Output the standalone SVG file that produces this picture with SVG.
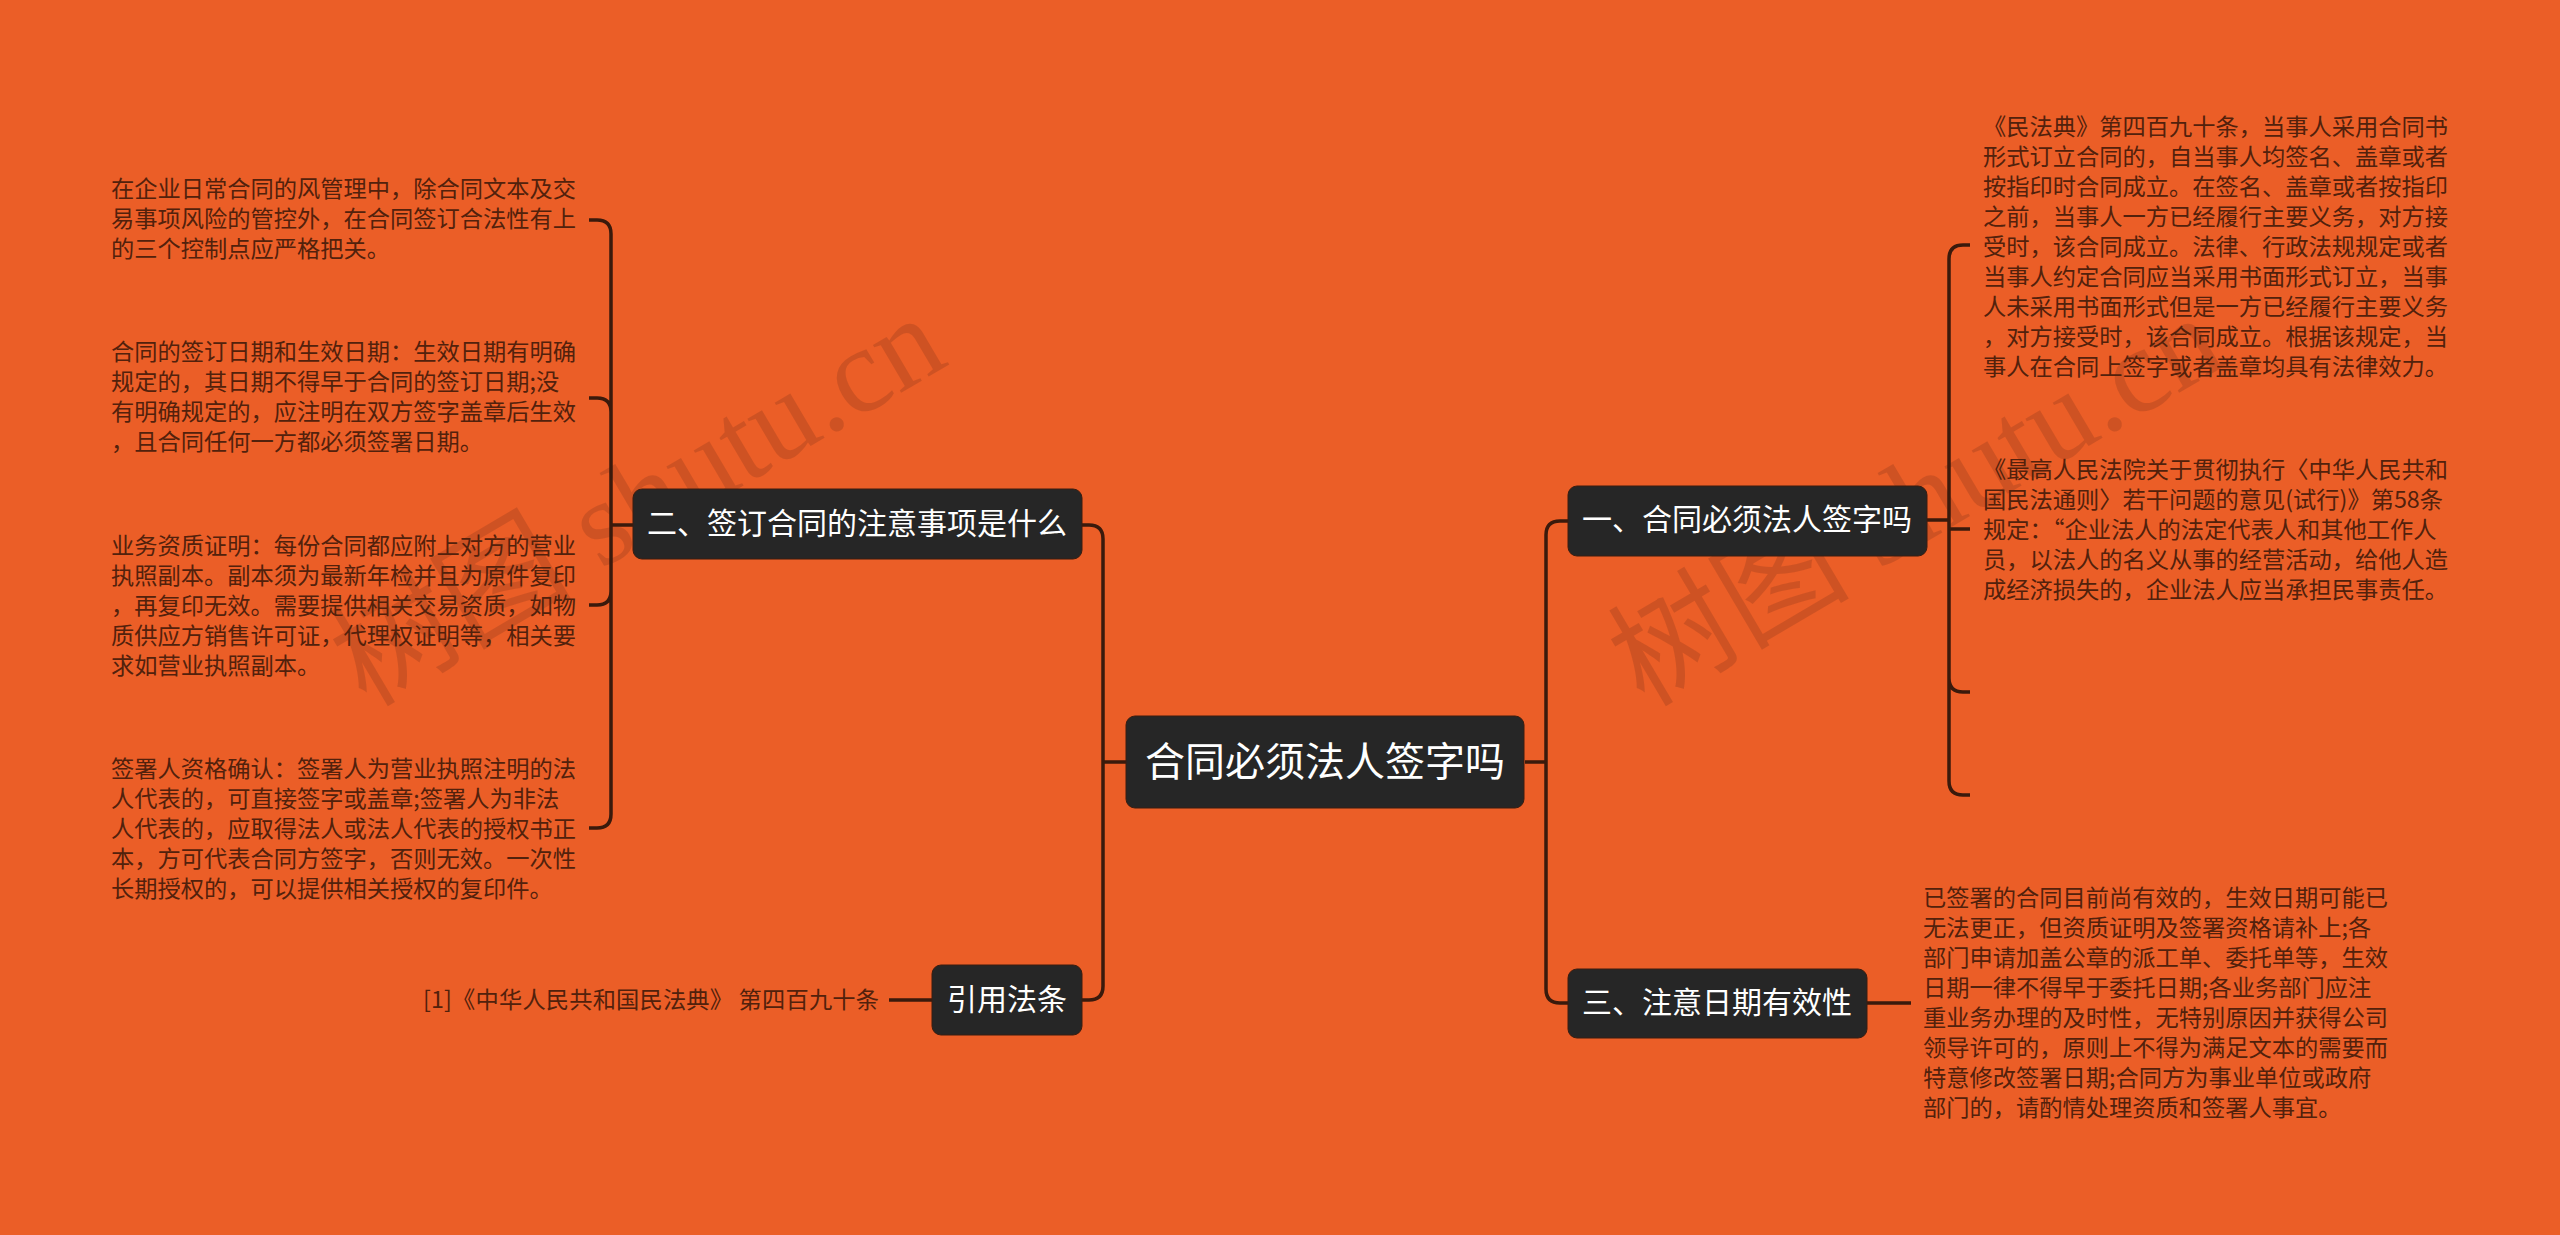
<svg xmlns="http://www.w3.org/2000/svg" width="2560" height="1235" viewBox="0 0 2560 1235">
<style>
text{font-family:"Noto Sans CJK SC","Liberation Sans",sans-serif}
.n{fill:#262626;stroke:#3a1d10;stroke-width:1}
.t0{fill:#fff;font-size:40px}
.t1{fill:#fff;font-size:30px}
.d{fill:#52210c;font-size:23.25px}
.c{fill:none;stroke:#3a1a0c;stroke-width:3.5}
.w{fill:#3a1a10;fill-opacity:.16;font-size:121px;font-family:"Liberation Serif","Noto Sans CJK SC",serif}
</style>
<rect width="2560" height="1235" fill="#eb5e27"/>
<g id="watermarks">
<text class="w" transform="translate(366 708) rotate(-30.5)">树图 shutu.cn</text>
<text class="w" transform="translate(1644 708) rotate(-30.5)">树图 shutu.cn</text>
</g>
<g id="connectors">
<path class="c" d="M1525 762H1546M1568 521H1560Q1546 521 1546 535V989Q1546 1003 1560 1003H1568"/>
<path class="c" d="M1126 762H1103M1082 525H1089Q1103 525 1103 539V986Q1103 1000 1089 1000H1082"/>
<path class="c" d="M1927 520H1949M1970 245H1963Q1949 245 1949 259V781Q1949 795 1963 795H1970M1949 529H1970M1949 678Q1949 692 1963 692H1970"/>
<path class="c" d="M633 525H611M589 220H597Q611 220 611 234V814Q611 828 597 828H589M589 398H597Q611 398 611 412M589 605H597Q611 605 611 591"/>
<path class="c" d="M932 1000H889M1867 1003H1911"/>
</g>
<g id="root"><rect class="n" x="1126" y="716" width="398" height="92" rx="9"/><text class="t0" x="1145" y="776">合同必须法人签字吗</text></g>
<g id="n1"><rect class="n" x="1568" y="486" width="359" height="70" rx="9"/><text class="t1" x="1582" y="530">一、合同必须法人签字吗</text></g>
<g id="n2"><rect class="n" x="633" y="489" width="449" height="70" rx="9"/><text class="t1" x="647" y="534">二、签订合同的注意事项是什么</text></g>
<g id="n3"><rect class="n" x="1568" y="969" width="299" height="69" rx="9"/><text class="t1" x="1582" y="1013">三、注意日期有效性</text></g>
<g id="n4"><rect class="n" x="932" y="965" width="150" height="70" rx="9"/><text class="t1" x="947" y="1010">引用法条</text></g>
<g id="d1">
<text class="d" x="1983" y="135">《民法典》第四百九十条，当事人采用合同书</text>
<text class="d" x="1983" y="165">形式订立合同的，自当事人均签名、盖章或者</text>
<text class="d" x="1983" y="195">按指印时合同成立。在签名、盖章或者按指印</text>
<text class="d" x="1983" y="225">之前，当事人一方已经履行主要义务，对方接</text>
<text class="d" x="1983" y="255">受时，该合同成立。法律、行政法规规定或者</text>
<text class="d" x="1983" y="285">当事人约定合同应当采用书面形式订立，当事</text>
<text class="d" x="1983" y="315">人未采用书面形式但是一方已经履行主要义务</text>
<text class="d" x="1983" y="345">，对方接受时，该合同成立。根据该规定，当</text>
<text class="d" x="1983" y="375">事人在合同上签字或者盖章均具有法律效力。</text>
</g>
<g id="d2">
<text class="d" x="1983" y="478">《最高人民法院关于贯彻执行〈中华人民共和</text>
<text class="d" x="1983" y="508">国民法通则〉若干问题的意见(试行)》第58条</text>
<text class="d" x="1983" y="538">规定：“企业法人的法定代表人和其他工作人</text>
<text class="d" x="1983" y="568">员，以法人的名义从事的经营活动，给他人造</text>
<text class="d" x="1983" y="598">成经济损失的，企业法人应当承担民事责任。</text>
</g>
<g id="d3">
<text class="d" x="1923" y="906">已签署的合同目前尚有效的，生效日期可能已</text>
<text class="d" x="1923" y="936">无法更正，但资质证明及签署资格请补上;各</text>
<text class="d" x="1923" y="966">部门申请加盖公章的派工单、委托单等，生效</text>
<text class="d" x="1923" y="996">日期一律不得早于委托日期;各业务部门应注</text>
<text class="d" x="1923" y="1026">重业务办理的及时性，无特别原因并获得公司</text>
<text class="d" x="1923" y="1056">领导许可的，原则上不得为满足文本的需要而</text>
<text class="d" x="1923" y="1086">特意修改签署日期;合同方为事业单位或政府</text>
<text class="d" x="1923" y="1116">部门的，请酌情处理资质和签署人事宜。</text>
</g>
<g id="d4">
<text class="d" x="111" y="197">在企业日常合同的风管理中，除合同文本及交</text>
<text class="d" x="111" y="227">易事项风险的管控外，在合同签订合法性有上</text>
<text class="d" x="111" y="257">的三个控制点应严格把关。</text>
</g>
<g id="d5">
<text class="d" x="111" y="360">合同的签订日期和生效日期：生效日期有明确</text>
<text class="d" x="111" y="390">规定的，其日期不得早于合同的签订日期;没</text>
<text class="d" x="111" y="420">有明确规定的，应注明在双方签字盖章后生效</text>
<text class="d" x="111" y="450">，且合同任何一方都必须签署日期。</text>
</g>
<g id="d6">
<text class="d" x="111" y="554">业务资质证明：每份合同都应附上对方的营业</text>
<text class="d" x="111" y="584">执照副本。副本须为最新年检并且为原件复印</text>
<text class="d" x="111" y="614">，再复印无效。需要提供相关交易资质，如物</text>
<text class="d" x="111" y="644">质供应方销售许可证，代理权证明等，相关要</text>
<text class="d" x="111" y="674">求如营业执照副本。</text>
</g>
<g id="d7">
<text class="d" x="111" y="777">签署人资格确认：签署人为营业执照注明的法</text>
<text class="d" x="111" y="807">人代表的，可直接签字或盖章;签署人为非法</text>
<text class="d" x="111" y="837">人代表的，应取得法人或法人代表的授权书正</text>
<text class="d" x="111" y="867">本，方可代表合同方签字，否则无效。一次性</text>
<text class="d" x="111" y="897">长期授权的，可以提供相关授权的复印件。</text>
</g>
<g id="d8"><text class="d" x="423" y="1008" textLength="456">[1]《中华人民共和国民法典》 第四百九十条</text></g>
</svg>
